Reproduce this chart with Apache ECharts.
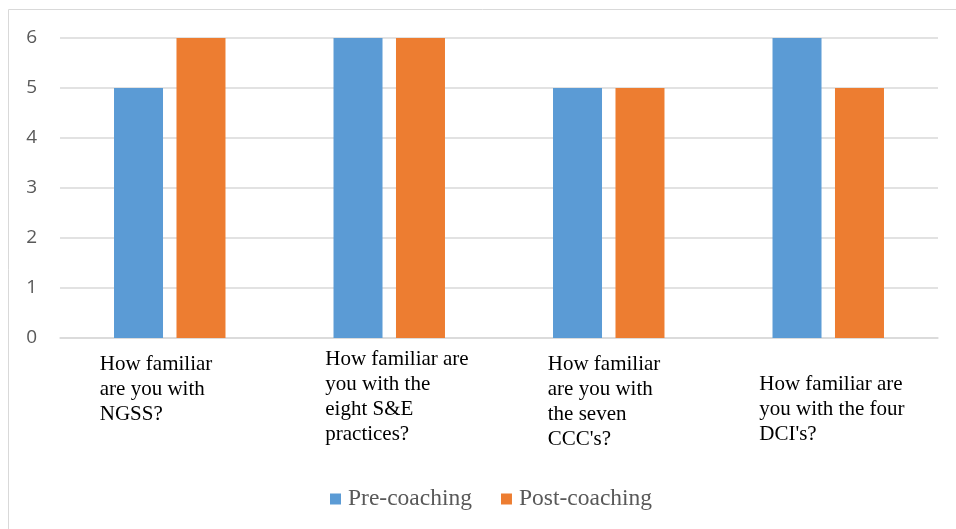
<!DOCTYPE html>
<html>
<head>
<meta charset="utf-8">
<script src="https://cdn.jsdelivr.net/npm/echarts@6/dist/echarts.min.js"></script>
<style>html,body{margin:0;padding:0;background:#fff}#c{width:956px;height:529px}</style>
</head>
<body>
<div id="c"></div>
<script>
const categories = [
  "How familiar\nare you with\nNGSS?",
  "How familiar are\nyou with the\neight S&E\npractices?",
  "How familiar\nare you with\nthe seven\nCCC's?",
  "How familiar are\nyou with the four\nDCI's?"
];
const preCoaching = [5, 6, 5, 6];
const postCoaching = [6, 6, 5, 5];
const yTicks = [0, 1, 2, 3, 4, 5, 6];

// per-label box layout (width of left-aligned block, top offset)
const labelBoxWidth = [140, 128, 122, 138];
const labelTop = [5, 0, 5, 25];

const chart = echarts.init(document.getElementById('c'));
const serif = '"Liberation Serif", "Times New Roman", serif';
chart.setOption({
  animation: false,
  graphic: [{
    type: 'rect', silent: true,
    shape: { x: 8.5, y: 9.5, width: 1200, height: 800 },
    style: { fill: 'none', stroke: '#d9d9d9', lineWidth: 1 }
  }],
  grid: { left: 60, right: 18, top: 38, bottom: 191 },
  legend: {
    data: ['Pre-coaching', 'Post-coaching'],
    bottom: 13, left: 325,
    icon: 'rect', itemWidth: 11, itemHeight: 11, itemGap: 29,
    textStyle: { fontFamily: serif, fontSize: 23.5, color: '#595959', padding: [0, 0, 0, 2] }
  },
  xAxis: {
    type: 'category',
    data: categories.map((c, i) => ({
      value: c,
      textStyle: { width: labelBoxWidth[i], padding: [labelTop[i], 0, 0, 0] }
    })),
    axisLine: { lineStyle: { color: '#d9d9d9', width: 1.5 } },
    axisTick: { show: false },
    axisLabel: {
      interval: 0, margin: 9, align: 'center',
      formatter: v => v.split('\n').map(s => '{a|' + s + '}').join('\n'),
      rich: { a: { align: 'left', fontFamily: serif, fontSize: 21, lineHeight: 25, color: '#000' } }
    }
  },
  yAxis: {
    type: 'value', min: 0, max: 6, interval: 1,
    axisLine: { show: false }, axisTick: { show: false },
    splitLine: { lineStyle: { color: '#d9d9d9', width: 1.5 } },
    axisLabel: {
      margin: 23, color: '#595959', fontSize: 19,
      fontFamily: '"Open Sans", "Liberation Sans", sans-serif',
      formatter: v => yTicks.includes(v) ? String(v) : ''
    }
  },
  series: [
    { name: 'Pre-coaching', type: 'bar', data: preCoaching, barWidth: 49, barGap: '27.5%',
      itemStyle: { color: '#5b9bd5' } },
    { name: 'Post-coaching', type: 'bar', data: postCoaching, barWidth: 49,
      itemStyle: { color: '#ed7d31' } }
  ]
});
</script>
</body>
</html>
